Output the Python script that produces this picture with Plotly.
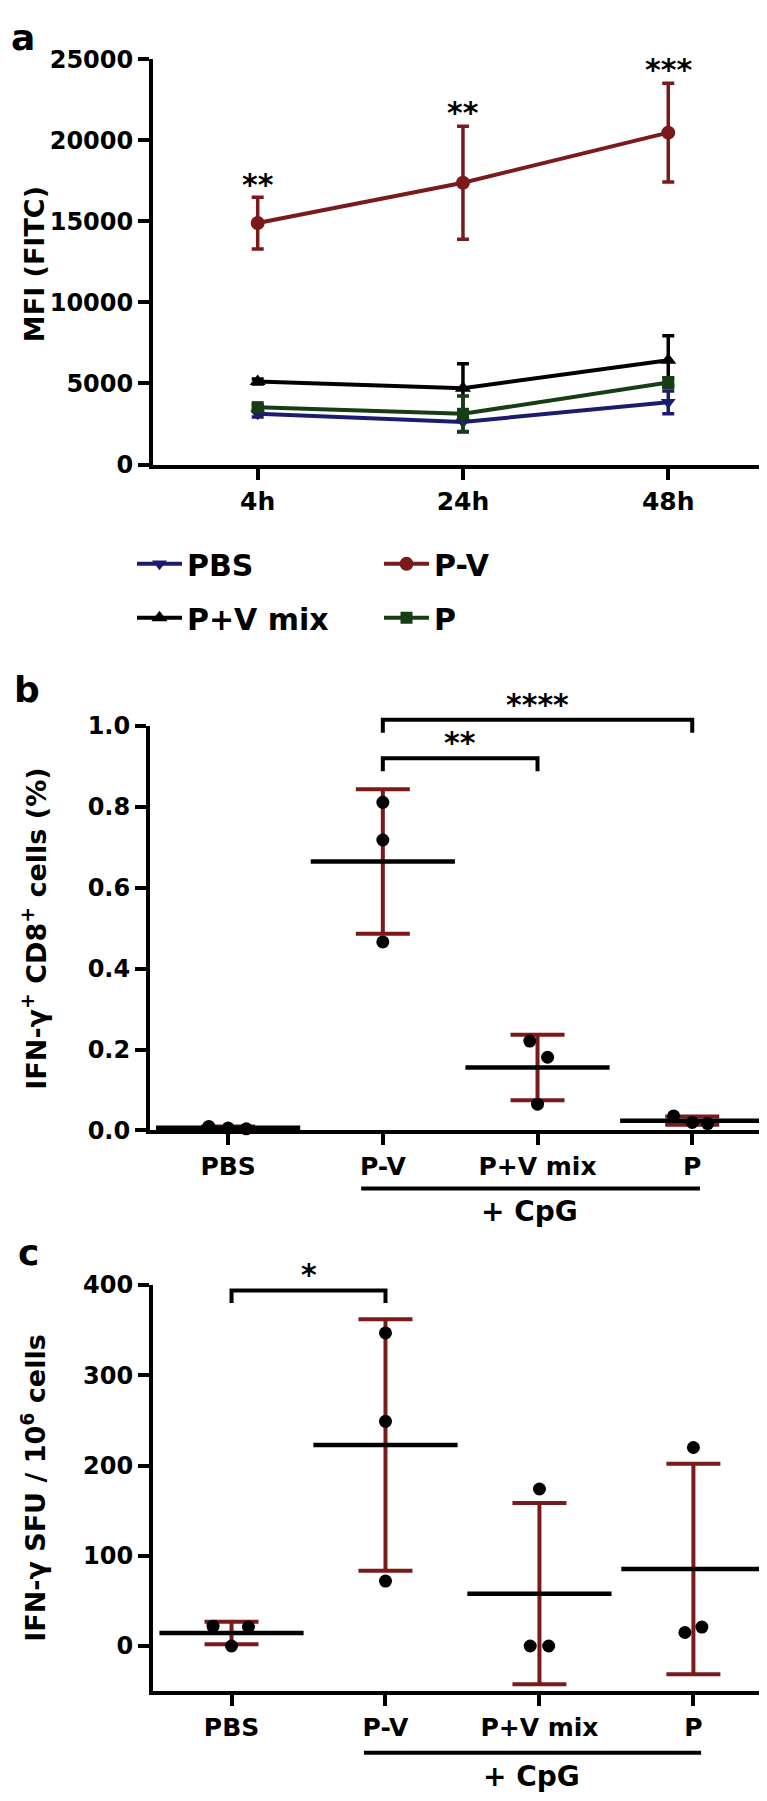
import numpy as np
import plotly.graph_objects as go

# ---- panel a : MFI (FITC) over time, mean +/- SD
TIMES = ['4h', '24h', '48h']
PBS_MFI = [3130, 2630, 3840]
PBS_SD = [200, 620, 700]
PV_MFI = [14900, 17390, 20480]
PV_SD = [1600, 3490, 3050]
MIX_MFI = [5120, 4710, 6430]
MIX_SD = [150, 1510, 1520]
P_MFI = [3540, 3130, 5060]
P_SD = [150, 1100, 300]
A_STARS = ['**', '**', '***']
A_STAR_Y = [17300, 21700, 24400]

# ---- panel b : IFN-g+ CD8+ cells (%)
GROUPS = ['PBS', 'P-V', 'P+V mix', 'P']
B_PBS = [0.010, 0.006, 0.004]
B_PV = [0.811, 0.718, 0.466]
B_MIX = [0.221, 0.181, 0.065]
B_P = [0.036, 0.020, 0.017]

# ---- panel c : IFN-g SFU / 10^6 cells
C_PBS = [22, 0, 21]
C_PV = [347, 249, 72]
C_MIX = [174, 0, 0]
C_P = [220, 15, 21]

# horizontal scatter of the dots (as drawn by the original software)
B_JIT = [[-0.125, 0, 0.117], [0, 0, 0], [-0.05, 0.065, 0], [-0.12, 0, 0.1]]
C_JIT = [[-0.12, 0, 0.11], [0, 0, 0], [0, -0.06, 0.06], [0, -0.055, 0.055]]

W, H = 767, 1801
FONT = 'DejaVu Sans, Liberation Sans, Arial, sans-serif'
MAROON = '#7a1a1a'
NAVY = '#1c1c6e'
GREEN = '#173d17'

A_RANGE, A_DOM = [0, 25000], [1 - 449.5 / H, 1 - 38 / H]
B_RANGE, B_DOM = [0, 1.0], [1 - 1126 / H, 1 - 715 / H]
C_RANGE, C_DOM = [-50, 400], [1 - 1695.5 / H, 1 - 1283 / H]


def to_paper(v, rng, dom):
    return dom[0] + (v - rng[0]) / (rng[1] - rng[0]) * (dom[1] - dom[0])


fig = go.Figure()

a_series = [
    ('PBS', PBS_MFI, PBS_SD, NAVY, 'triangle-down', 13, 'legend'),
    ('P-V', PV_MFI, PV_SD, MAROON, 'circle', 14, 'legend2'),
    ('P+V mix', MIX_MFI, MIX_SD, 'black', 'triangle-up', 14, 'legend'),
    ('P', P_MFI, P_SD, GREEN, 'square', 12, 'legend2'),
]
for name, m, sd, col, sym, size, leg in a_series:
    fig.add_trace(go.Scatter(
        x=np.arange(len(TIMES)), y=m, name=name, mode='lines+markers',
        line=dict(color=col, width=4),
        marker=dict(symbol=sym, size=size, color=col),
        error_y=dict(type='data', array=sd, color=col, thickness=3.5, width=6),
        legend=leg, legendgroup=name, cliponaxis=False,
        xaxis='x', yaxis='y'))


def dot_panel(pts, jit, xa, ya):
    means = [np.mean(p) for p in pts]
    sds = [np.std(p, ddof=1) for p in pts]
    idx = np.arange(len(pts))
    fig.add_trace(go.Scatter(
        x=idx, y=means, mode='markers', showlegend=False,
        marker=dict(size=0, color='rgba(0,0,0,0)'),
        error_y=dict(type='data', array=sds, color=MAROON, thickness=4, width=27),
        xaxis=xa, yaxis=ya, cliponaxis=False))
    fig.add_trace(go.Scatter(
        x=idx, y=means, mode='markers', showlegend=False,
        marker=dict(symbol='line-ew', size=103, color='black',
                    line=dict(width=4.5, color='black')),
        xaxis=xa, yaxis=ya, cliponaxis=False))
    xs = [i + j for i, js in enumerate(jit) for j in js]
    ys = [v for p in pts for v in p]
    fig.add_trace(go.Scatter(
        x=xs, y=ys, mode='markers', showlegend=False,
        marker=dict(size=13, color='black'),
        xaxis=xa, yaxis=ya, cliponaxis=False))


dot_panel([B_PBS, B_PV, B_MIX, B_P], B_JIT, 'x2', 'y2')
dot_panel([C_PBS, C_PV, C_MIX, C_P], C_JIT, 'x3', 'y3')

tickfont = dict(family=FONT, size=24, color='black', weight='bold')
xtickfont = dict(family=FONT, size=25, color='black', weight='bold')
ax = dict(showline=True, linecolor='black', linewidth=4, ticks='outside',
          ticklen=11, tickwidth=4, tickcolor='black', showgrid=False,
          zeroline=False, fixedrange=True)
legfont = dict(family=FONT, size=30, color='black', weight='bold')

fig.update_layout(
    width=W, height=H, margin=dict(l=0, r=0, t=0, b=0),
    paper_bgcolor='white', plot_bgcolor='white',
    font=dict(family=FONT, color='black'),
    xaxis=dict(ax, domain=[145 / W, 1], range=[-0.51, 2.52], anchor='y',
               tickvals=np.arange(len(TIMES)), ticktext=TIMES, tickfont=xtickfont),
    yaxis=dict(ax, domain=A_DOM, range=A_RANGE, anchor='x',
               tickvals=np.arange(0, 25001, 5000), tickformat='d', tickfont=tickfont),
    xaxis2=dict(ax, domain=[142 / W, 1], range=[-0.505, 3.535], anchor='y2',
                tickvals=np.arange(len(GROUPS)), ticktext=GROUPS, tickfont=xtickfont),
    yaxis2=dict(ax, domain=B_DOM, range=B_RANGE, anchor='x2',
                tickvals=[0, 0.2, 0.4, 0.6, 0.8, 1.0], tickformat='.1f', tickfont=tickfont),
    xaxis3=dict(ax, domain=[145 / W, 1], range=[-0.51, 3.53], anchor='y3',
                tickvals=np.arange(len(GROUPS)), ticktext=GROUPS, tickfont=xtickfont),
    yaxis3=dict(ax, domain=C_DOM, range=C_RANGE, anchor='x3',
                tickvals=[0, 100, 200, 300, 400], tickformat='d', tickfont=tickfont),
    legend=dict(x=124 / W, y=1 - 524 / H, xanchor='left', yanchor='top',
                orientation='v', tracegroupgap=12, itemwidth=45,
                font=legfont, bgcolor='rgba(0,0,0,0)'),
    legend2=dict(x=371 / W, y=1 - 524 / H, xanchor='left', yanchor='top',
                 orientation='v', tracegroupgap=12, itemwidth=45,
                 font=legfont, bgcolor='rgba(0,0,0,0)'),
)

ann = []
bold = dict(family=FONT, color='black', weight='bold')
centred = dict(xanchor='center', yanchor='middle', showarrow=False,
               xref='paper', yref='paper')
# panel letters
for letter, px, py in [('a', 15, 16), ('b', 19, 678), ('c', 20, 1250)]:
    ann.append(dict(centred, text=letter, x=px / W, y=1 - py / H,
                    font=dict(bold, size=36)))
# y axis titles
for title, py in [('MFI (FITC)', 246),
                  ('IFN-γ<sup>+</sup> CD8<sup>+</sup> cells (%)', 921),
                  ('IFN-γ SFU / 10<sup>6</sup> cells', 1489)]:
    ann.append(dict(centred, text=title, x=26 / W, y=1 - py / H,
                    textangle=-90, font=dict(bold, size=27)))
# significance stars, panel a
for i, (s, yv) in enumerate(zip(A_STARS, A_STAR_Y)):
    ann.append(dict(text=s, x=i, y=yv, xref='x', yref='y', showarrow=False,
                    xanchor='center', yanchor='middle', font=dict(bold, size=30)))

shapes = []
bl = dict(color='black', width=4)


def bracket(xa, x0, x1, ytop, drop, rng, dom, stars):
    y1 = to_paper(ytop, rng, dom)
    y0 = to_paper(ytop - drop, rng, dom)
    shapes.append(dict(type='path', xref=xa, yref='paper', line=bl,
                       path=f'M {x0},{y0} L {x0},{y1} L {x1},{y1} L {x1},{y0}'))
    ann.append(dict(text=stars, x=(x0 + x1) / 2, y=y1, xref=xa, yref='paper',
                    xanchor='center', yanchor='bottom', yshift=-4, showarrow=False,
                    font=dict(bold, size=30)))


bracket('x2', 1, 2, 0.92, 0.032, B_RANGE, B_DOM, '**')
bracket('x2', 1, 3, 1.015, 0.032, B_RANGE, B_DOM, '****')
bracket('x3', 0, 1, 394, 14, C_RANGE, C_DOM, '*')

# "+ CpG" group lines
for xa, yline in [('x2', 1185), ('x3', 1758)]:
    shapes.append(dict(type='line', xref=xa, yref='paper', x0=0.86, x1=3.05,
                       y0=1 - yline / H, y1=1 - yline / H, line=bl))
    ann.append(dict(text='+ CpG', x=1.95, y=1 - (yline + 5) / H, xref=xa, yref='paper',
                    xanchor='center', yanchor='top', showarrow=False,
                    font=dict(bold, size=28)))

fig.update_layout(annotations=ann, shapes=shapes)

fig.write_html("out.html")
